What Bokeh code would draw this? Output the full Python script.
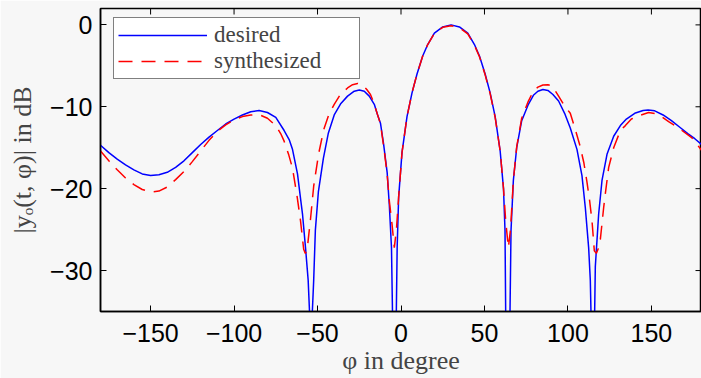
import math
from bokeh.plotting import figure
from bokeh.models import FixedTicker, Legend, LegendItem
from bokeh.embed import file_html
from bokeh.resources import INLINE

# ---- data ----
phi_desired = [-180, -175, -170, -165, -160, -155, -150, -145, -140, -135, -130, -125, -120, -115,
               -110, -105, -100, -95, -90, -85, -80, -75, -70, -67, -65, -62, -60, -59,
               -57.2, -55.6, -54.8, -54.2, -53.1, -52.3, -51.3, -49.5, -46.5, -43.5,
               -40, -36, -32, -28, -25, -22, -19, -16, -14,
               -12.3, -10.4, -8.3, -7.0, -5.7, -5.1, -4.0, -2.8, -2.3, -1.4,
               0.6, 3.6, 6.6, 9.6, 13, 16, 20, 25, 30, 35, 40, 44, 47,
               50.4, 53.4, 56.4, 59.4, 61.4, 62.3, 62.7, 64.0, 65.3, 65.9,
               67.3, 69.3, 72.3, 76.3, 79.3, 82, 85, 88, 91, 94.4,
               98, 101.4, 105.4, 108.4, 110.4, 112.4, 113.4, 113.8, 114.9, 116.0,
               116.4, 118.4, 120.4, 123.4, 127.4, 131.4, 135, 140, 145, 148,
               152, 157, 162, 167, 172, 176, 180]
mag_desired = [-14.7, -15.6, -16.4, -17.1, -17.7, -18.2, -18.4, -18.3, -18.0, -17.4, -16.6, -15.6, -14.6, -13.7,
               -12.9, -12.1, -11.5, -11.0, -10.6, -10.45, -10.7, -11.3, -12.9, -14.0, -15.2, -18.2, -21.5, -23.1,
               -27.2, -31.2, -35.0, -48.0, -35.0, -31.2, -25.1, -20.4, -16.3, -13.2,
               -11.0, -9.6, -8.7, -8.1, -7.95, -8.1, -8.7, -9.7, -11.0,
               -12.0, -14.6, -18.0, -22.0, -27.2, -35.0, -48.0, -35.0, -27.2, -21.0,
               -15.6, -11.2, -8.3, -6.0, -3.8, -2.4, -1.0, -0.25, 0.0, -0.25, -1.0, -2.4, -3.8,
               -6.0, -8.3, -11.2, -15.4, -20.0, -25.1, -35.0, -48.0, -35.0, -25.1,
               -19.0, -15.0, -11.7, -9.7, -8.6, -8.1, -7.9, -8.0, -8.5, -9.3,
               -10.8, -12.6, -15.2, -18.4, -22.3, -27.2, -31.2, -35.0, -48.0, -35.0,
               -29.5, -23.1, -19.0, -15.8, -13.6, -12.3, -11.5, -10.8, -10.45, -10.4,
               -10.5, -11.0, -11.7, -12.5, -13.3, -13.9, -14.6]

phi_synth = [-180, -175, -170, -165, -160, -155, -150, -145, -140, -135, -130, -125, -120, -115,
             -110, -105, -100, -95, -90, -85,
             -80, -75, -72, -70, -67.2, -65, -62.2, -60.2, -58.3, -57.3,
             -56.2, -54.2, -52.3, -49.3, -46.3, -43.3, -40, -36.3, -32, -29,
             -26, -23, -20.5, -18.3, -16.5, -15.4, -12.3, -10.4, -8.3, -7.0,
             -5.4, -4.0, -2.75, -1.4, 0.6, 3.6, 6.6, 9.6, 13, 16,
             20, 25, 30, 35, 40, 44, 47, 50.4, 53.4, 56.4,
             59.4, 61.4, 62.7, 64.3, 65.6, 67.3, 69.3, 72.3, 76.3, 79.3,
             82, 85, 88, 90.5, 94.4, 98, 101.4, 104, 107, 109.5,
             111.4, 113, 114.4, 115.8, 117.0, 118.2, 119.4, 121.4, 122.4, 124.4,
             127.4, 131.4, 134.4, 138, 142.3, 148.3, 154, 160.3, 167, 174.3,
             180]
mag_synth = [-15.4, -16.6, -17.7, -18.7, -19.5, -20.1, -20.4, -20.3, -19.8, -18.9, -17.9, -16.7, -15.4, -14.1,
             -13.0, -12.2, -11.6, -11.2, -11.0, -10.95,
             -11.4, -12.3, -13.3, -14.2, -15.9, -17.5, -21.0, -23.9, -27.4, -27.9,
             -27.4, -23.7, -19.7, -15.7, -12.8, -11.0, -9.7, -8.5, -7.7, -7.3,
             -7.15, -7.3, -7.9, -8.5, -9.4, -10.1, -12.1, -14.8, -18.2, -21.5,
             -24.3, -27.2, -25.0, -21.0, -15.6, -11.2, -8.3, -6.0, -3.8, -2.4,
             -1.05, -0.3, -0.1, -0.35, -1.1, -2.5, -3.9, -6.1, -8.4, -11.3,
             -15.4, -20.0, -23.9, -27.2, -25.0, -19.0, -14.9, -11.4, -9.3, -8.1,
             -7.6, -7.35, -7.3, -7.45, -8.7, -9.9, -10.8, -12.5, -14.6, -16.8,
             -19.2, -21.5, -23.9, -27.6, -27.9, -27.3, -26.2, -22.3, -20.6, -17.4,
             -15.0, -12.9, -12.3, -11.5, -11.1, -10.7, -10.9, -11.8, -12.7, -13.8,
             -15.3]

x_ticks = [-150, -100, -50, 0, 50, 100, 150]
x_tick_labels = ["\u2212150", "\u2212100", "\u221250", "0", "50", "100", "150"]
y_ticks = [-30, -20, -10, 0]
y_tick_labels = ["\u221230", "\u221220", "\u221210", "0"]
x_lim = (-180, 180)
y_lim = (-35, 2)

BG = "#f7f7f7"
TICK_FONT = "Liberation Sans"
SERIF = "Liberation Serif"

p = figure(width=701, height=378, x_range=x_lim, y_range=y_lim,
           output_backend="svg", toolbar_location=None,
           min_border_left=100, min_border_right=0, min_border_top=8, min_border_bottom=67,
           background_fill_color=BG, border_fill_color=BG,
           outline_line_color="black", outline_line_width=1.5)
p.grid.visible = False

r1 = p.line(phi_desired, mag_desired, line_color="#0000ff", line_width=1.5)
r2 = p.line(phi_synth, mag_synth, line_color="#ff0000", line_width=1.5, line_dash="14 9")

# inward ticks on the top and right edges of the box
p.ray(x=x_ticks, y=[y_lim[1]] * len(x_ticks), length=6, angle=-math.pi / 2,
      length_units="screen", line_color="black", line_width=1)
p.ray(x=[x_lim[1]] * len(y_ticks), y=y_ticks, length=6, angle=math.pi,
      length_units="screen", line_color="black", line_width=1)


def style_axis(ax, ticks, labels):
    ax.ticker = FixedTicker(ticks=ticks)
    ax.major_tick_in = 6
    ax.major_tick_out = 0
    ax.minor_tick_in = 0
    ax.minor_tick_out = 0
    ax.major_tick_line_color = "black"
    ax.major_tick_line_width = 1
    ax.axis_line_color = "black"
    ax.axis_line_width = 1.5
    ax.major_label_overrides = {t: l for t, l in zip(ticks, labels)}
    ax.major_label_text_font = TICK_FONT
    ax.major_label_text_font_size = "25px"
    ax.major_label_text_color = "black"


style_axis(p.xaxis[0], x_ticks, x_tick_labels)
style_axis(p.yaxis[0], y_ticks, y_tick_labels)
p.xaxis[0].major_label_standoff = 12
p.yaxis[0].major_label_standoff = 8

p.xaxis[0].axis_label = "\u03c6 in degree"
p.xaxis[0].axis_label_text_font = SERIF
p.xaxis[0].axis_label_text_font_style = "normal"
p.xaxis[0].axis_label_text_font_size = "26px"
p.xaxis[0].axis_label_standoff = 1

p.yaxis[0].axis_label = "|y\u2092(t, \u03c6)| in dB"
p.yaxis[0].axis_label_text_font = SERIF
p.yaxis[0].axis_label_text_font_style = "normal"
p.yaxis[0].axis_label_text_font_size = "26px"
p.yaxis[0].axis_label_standoff = 10

legend = Legend(items=[LegendItem(label="desired", renderers=[r1]),
                       LegendItem(label="synthesized", renderers=[r2])],
                location=(13, 232))
legend.border_line_color = "black"
legend.border_line_width = 1
legend.background_fill_color = "white"
legend.background_fill_alpha = 1
legend.label_text_font = SERIF
legend.label_text_font_size = "23px"
legend.label_text_line_height = 1.0
legend.glyph_width = 89
legend.glyph_height = 24
legend.label_height = 24
legend.label_width = 141
legend.spacing = 0
legend.padding = 4
legend.margin = 0
legend.label_standoff = 7
p.add_layout(legend)

open("out.html", "w").write(file_html(p, INLINE))
